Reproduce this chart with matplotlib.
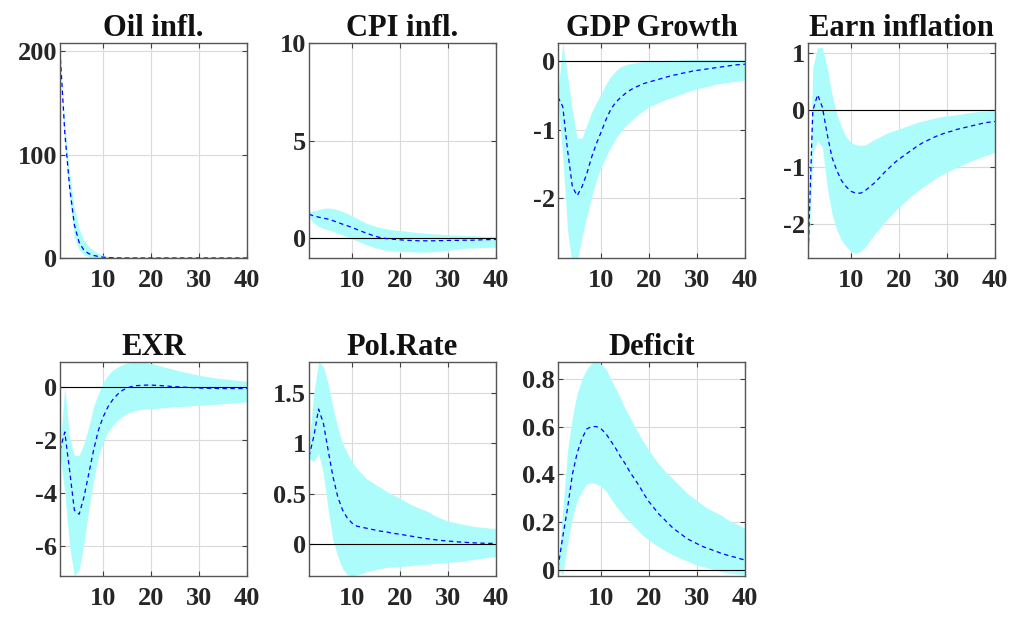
import numpy as np
import matplotlib
matplotlib.use("Agg")
import matplotlib.pyplot as plt

# horizon 1..40, median response and band (lower / upper) for each variable
horizon = list(range(1, 41))

titles = ["Oil infl.", "CPI infl.", "GDP Growth", "Earn inflation",
          "EXR", "Pol.Rate", "Deficit"]

oil_med = [200, 121, 69, 32, 15, 7.5, 4.2, 2.5, 1.5, 0.8, 0.4, 0.2, 0.1, 0.05,
           0, 0, 0, 0, 0, 0, 0, 0, 0, 0, 0, 0, 0, 0, 0, 0, 0, 0, 0, 0, 0, 0, 0, 0, 0, 0]
oil_up = [200, 130, 82, 48, 28, 17, 11, 7, 4.5, 2.6, 1.4, 0.7, 0.3, 0.1,
          0, 0, 0, 0, 0, 0, 0, 0, 0, 0, 0, 0, 0, 0, 0, 0, 0, 0, 0, 0, 0, 0, 0, 0, 0, 0]
oil_lo = [200, 112, 56, 20, 8, 3.2, 1.2, 0.4, 0.1, 0,
          0, 0, 0, 0, 0, 0, 0, 0, 0, 0, 0, 0, 0, 0, 0, 0, 0, 0, 0, 0, 0, 0, 0, 0, 0, 0, 0, 0, 0, 0]

cpi_med = [1.24, 1.15, 1.09, 1.04, 0.99, 0.91, 0.82, 0.73, 0.65, 0.56,
           0.46, 0.36, 0.27, 0.18, 0.1, 0.04, 0.0, -0.03, -0.05, -0.07,
           -0.09, -0.1, -0.11, -0.12, -0.12, -0.12, -0.12, -0.11, -0.11, -0.1,
           -0.1, -0.1, -0.09, -0.09, -0.09, -0.08, -0.07, -0.06, -0.06, -0.05]
cpi_up = [1.35, 1.42, 1.48, 1.54, 1.56, 1.53, 1.46, 1.38, 1.27, 1.16,
          1.03, 0.9, 0.78, 0.69, 0.61, 0.55, 0.5, 0.46, 0.43, 0.41,
          0.38, 0.35, 0.32, 0.29, 0.27, 0.25, 0.23, 0.22, 0.2, 0.19,
          0.18, 0.17, 0.16, 0.15, 0.14, 0.13, 0.12, 0.11, 0.11, 0.1]
cpi_lo = [1.1, 0.8, 0.62, 0.52, 0.44, 0.36, 0.27, 0.17, 0.07, -0.03,
          -0.13, -0.23, -0.32, -0.41, -0.49, -0.55, -0.6, -0.63, -0.65, -0.66,
          -0.67, -0.68, -0.69, -0.7, -0.7, -0.69, -0.68, -0.66, -0.64, -0.61,
          -0.58, -0.55, -0.52, -0.5, -0.49, -0.48, -0.47, -0.46, -0.45, -0.44]

gdp_med = [-0.52, -0.66, -1.3, -1.83, -1.96, -1.83, -1.64, -1.4, -1.2, -1.03,
           -0.85, -0.7, -0.6, -0.53, -0.47, -0.42, -0.38, -0.35, -0.32, -0.3,
           -0.28, -0.26, -0.24, -0.22, -0.2, -0.19, -0.17, -0.16, -0.14, -0.13,
           -0.12, -0.11, -0.1, -0.09, -0.08, -0.07, -0.06, -0.05, -0.045, -0.04]
gdp_up = [-0.45, 0.27, -0.22, -0.71, -1.12, -1.12, -0.93, -0.74, -0.6, -0.47,
          -0.33, -0.22, -0.14, -0.08, -0.05, -0.03, -0.02, -0.01, 0.0, 0.0,
          0.01, 0.01, 0.015, 0.02, 0.02, 0.02, 0.025, 0.03, 0.03, 0.03,
          0.03, 0.03, 0.03, 0.03, 0.03, 0.03, 0.03, 0.03, 0.03, 0.03]
gdp_lo = [-0.57, -1.4, -2.47, -3.0, -2.92, -2.57, -2.27, -1.98, -1.74, -1.54,
          -1.39, -1.25, -1.13, -1.03, -0.95, -0.88, -0.82, -0.76, -0.71, -0.66,
          -0.63, -0.6, -0.57, -0.54, -0.52, -0.49, -0.47, -0.44, -0.42, -0.4,
          -0.38, -0.37, -0.35, -0.33, -0.32, -0.31, -0.3, -0.29, -0.28, -0.27]

earn_med = [-2.6, -0.01, 0.27, 0.05, -0.42, -0.83, -1.06, -1.24, -1.35, -1.43,
            -1.46, -1.46, -1.41, -1.34, -1.27, -1.18, -1.09, -1.01, -0.93, -0.86,
            -0.8, -0.74, -0.68, -0.62, -0.57, -0.53, -0.49, -0.45, -0.42, -0.39,
            -0.37, -0.34, -0.32, -0.3, -0.28, -0.26, -0.24, -0.22, -0.21, -0.2]
earn_up = [-2.3, 0.75, 1.1, 1.1, 0.75, 0.28, -0.07, -0.3, -0.48, -0.57,
           -0.61, -0.62, -0.61, -0.56, -0.51, -0.47, -0.42, -0.39, -0.36, -0.33,
           -0.3, -0.27, -0.24, -0.21, -0.19, -0.17, -0.15, -0.13, -0.11, -0.1,
           -0.09, -0.08, -0.07, -0.05, -0.04, -0.03, -0.02, -0.02, -0.01, -0.01]
earn_lo = [-2.9, -0.77, -0.54, -0.65, -1.35, -1.82, -2.11, -2.29, -2.4, -2.49,
           -2.52, -2.48, -2.4, -2.28, -2.17, -2.07, -1.97, -1.88, -1.79, -1.7,
           -1.63, -1.55, -1.48, -1.41, -1.35, -1.29, -1.24, -1.18, -1.13, -1.09,
           -1.05, -1.01, -0.97, -0.93, -0.89, -0.86, -0.83, -0.8, -0.77, -0.74]

exr_med = [-2.39, -1.7, -3.14, -4.65, -4.8, -4.15, -3.27, -2.39, -1.64, -1.13,
           -0.75, -0.48, -0.28, -0.13, -0.04, 0.02, 0.05, 0.06, 0.07, 0.07,
           0.06, 0.05, 0.04, 0.02, 0.01, 0.0, -0.01, -0.02, -0.03, -0.04,
           -0.05, -0.05, -0.05, -0.06, -0.06, -0.06, -0.06, -0.06, -0.06, -0.06]
exr_up = [-2.3, 0.0, -1.89, -2.58, -2.58, -2.14, -1.5, -0.75, -0.25, 0.19,
          0.44, 0.63, 0.75, 0.84, 0.9, 0.93, 0.94, 0.94, 0.92, 0.88,
          0.84, 0.79, 0.74, 0.7, 0.65, 0.6, 0.56, 0.52, 0.48, 0.44,
          0.41, 0.38, 0.35, 0.33, 0.31, 0.29, 0.27, 0.25, 0.23, 0.21]
exr_lo = [-2.5, -4.0, -6.0, -7.13, -6.9, -5.9, -4.65, -3.52, -2.64, -2.08,
          -1.7, -1.45, -1.26, -1.12, -1.0, -0.93, -0.88, -0.85, -0.83, -0.82,
          -0.81, -0.79, -0.78, -0.76, -0.75, -0.74, -0.73, -0.72, -0.7, -0.69,
          -0.68, -0.67, -0.66, -0.65, -0.63, -0.62, -0.61, -0.6, -0.58, -0.57]

rate_med = [0.87, 1.07, 1.34, 1.2, 0.93, 0.67, 0.47, 0.34, 0.26, 0.21,
            0.18, 0.17, 0.16, 0.15, 0.14, 0.13, 0.125, 0.115, 0.107, 0.1,
            0.092, 0.084, 0.076, 0.068, 0.06, 0.054, 0.048, 0.042, 0.037, 0.033,
            0.029, 0.025, 0.022, 0.019, 0.016, 0.014, 0.012, 0.011, 0.01, 0.01]
rate_up = [1.0, 1.49, 1.81, 1.76, 1.59, 1.36, 1.16, 1.0, 0.9, 0.82,
           0.75, 0.7, 0.65, 0.62, 0.59, 0.56, 0.53, 0.5, 0.48, 0.455,
           0.43, 0.4, 0.38, 0.36, 0.34, 0.32, 0.29, 0.27, 0.25, 0.23,
           0.22, 0.21, 0.2, 0.19, 0.18, 0.175, 0.17, 0.165, 0.16, 0.16]
rate_lo = [0.85, 0.82, 0.9, 0.7, 0.34, 0.04, -0.12, -0.24, -0.3, -0.31,
           -0.3, -0.29, -0.27, -0.26, -0.25, -0.24, -0.23, -0.225, -0.22, -0.22,
           -0.215, -0.21, -0.205, -0.2, -0.2, -0.195, -0.19, -0.185, -0.18, -0.18,
           -0.175, -0.17, -0.165, -0.16, -0.15, -0.145, -0.14, -0.13, -0.125, -0.12]

def_med = [0.01, 0.14, 0.26, 0.4, 0.49, 0.55, 0.59, 0.6, 0.6, 0.59,
           0.57, 0.54, 0.51, 0.475, 0.445, 0.41, 0.38, 0.35, 0.315, 0.285,
           0.26, 0.235, 0.215, 0.195, 0.175, 0.16, 0.145, 0.13, 0.12, 0.11,
           0.1, 0.092, 0.085, 0.078, 0.07, 0.064, 0.058, 0.053, 0.047, 0.042]
def_up = [0.03, 0.25, 0.5, 0.64, 0.74, 0.8, 0.84, 0.865, 0.87, 0.86,
          0.84, 0.8, 0.76, 0.72, 0.675, 0.64, 0.6, 0.565, 0.53, 0.5,
          0.47, 0.445, 0.42, 0.4, 0.38, 0.36, 0.34, 0.32, 0.305, 0.29,
          0.275, 0.26, 0.25, 0.24, 0.23, 0.215, 0.205, 0.195, 0.185, 0.174]
def_lo = [0.0, -0.02, 0.11, 0.22, 0.29, 0.33, 0.36, 0.365, 0.36, 0.35,
          0.33, 0.3, 0.27, 0.245, 0.22, 0.2, 0.18, 0.16, 0.14, 0.125,
          0.11, 0.097, 0.085, 0.073, 0.063, 0.054, 0.045, 0.037, 0.028, 0.02,
          0.015, 0.01, 0.005, 0.0, -0.007, -0.01, -0.013, -0.016, -0.018, -0.02]

medians = [oil_med, cpi_med, gdp_med, earn_med, exr_med, rate_med, def_med]
uppers = [oil_up, cpi_up, gdp_up, earn_up, exr_up, rate_up, def_up]
lowers = [oil_lo, cpi_lo, gdp_lo, earn_lo, exr_lo, rate_lo, def_lo]

ylims = [(0, 208), (-1, 10), (-2.87, 0.27), (-2.6, 1.18),
         (-7.13, 0.94), (-0.313, 1.806), (-0.025, 0.87)]
yticks = [[0, 100, 200], [0, 5, 10], [-2, -1, 0], [-2, -1, 0, 1],
          [-6, -4, -2, 0], [0, 0.5, 1, 1.5], [0, 0.2, 0.4, 0.6, 0.8]]
ytick_labels = [["0", "100", "200"], ["0", "5", "10"], ["-2", "-1", "0"],
                ["-2", "-1", "0", "1"], ["-6", "-4", "-2", "0"],
                ["0", "0.5", "1", "1.5"], ["0", "0.2", "0.4", "0.6", "0.8"]]

plt.rcParams['font.family'] = ['Liberation Serif', 'DejaVu Serif']
plt.rcParams['font.weight'] = 'bold'

fig = plt.figure(figsize=(10.13, 6.18), dpi=100)

# panel positions in pixels: left edges, row top/bottom
col_left = [60, 309, 558, 808]
rows = [(43, 258), (362, 576)]
W, H = 1013, 618
pw = 187

for i in range(7):
    r, c = divmod(i, 4)
    top, bot = rows[r]
    ax = fig.add_axes([col_left[c] / W, 1 - bot / H, pw / W, (bot - top) / H])

    x = np.array(horizon)
    ax.fill_between(x, lowers[i], uppers[i], color='#adfcfc', linewidth=0, zorder=1)
    ax.axhline(0, color='black', linewidth=0.8, zorder=2)
    ax.plot(x, medians[i], color='#0000ff', linestyle='--', dashes=(3.5, 2.8),
            linewidth=0.9, zorder=3)

    ax.set_xlim(1, 40)
    ax.set_ylim(*ylims[i])
    ax.set_xticks([10, 20, 30, 40])
    ax.set_yticks(yticks[i])
    ax.set_yticklabels(ytick_labels[i])
    ax.grid(True, color='#dadada', linewidth=0.8, zorder=0)
    ax.set_axisbelow(True)
    ax.tick_params(direction='in', top=True, right=True, length=3.5, width=0.8,
                   colors='#404040', labelcolor='#262626', labelsize=19)
    ax.tick_params(axis='y', pad=2)
    ax.tick_params(axis='x', pad=8)
    for s in ax.spines.values():
        s.set_color('#555555')
        s.set_linewidth(1.0)
        s.set_zorder(4)
    ax.set_title(titles[i], fontsize=22, fontweight='bold', pad=5, color='#111111')

fig.savefig("out.png", dpi=100)
